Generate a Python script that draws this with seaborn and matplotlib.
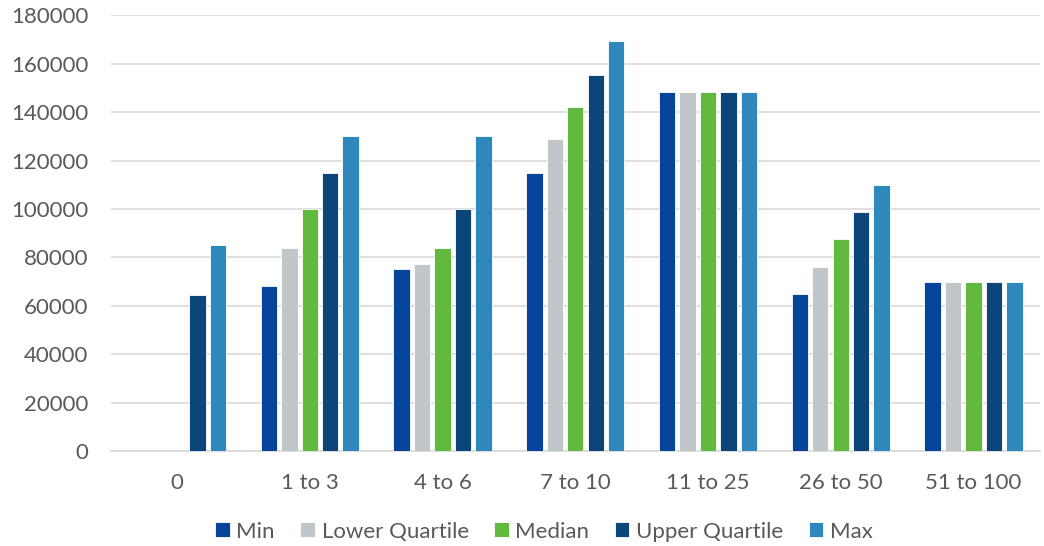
import pandas as pd
import matplotlib.pyplot as plt
import seaborn as sns

# Values
groups = ["0", "1 to 3", "4 to 6", "7 to 10", "11 to 25", "26 to 50", "51 to 100"]
series = ["Min", "Lower Quartile", "Median", "Upper Quartile", "Max"]
min_vals = [0, 68000, 75000, 115000, 148500, 65000, 70000]
lower_q = [0, 84000, 77200, 128700, 148500, 76100, 70000]
median = [0, 100000, 84000, 142000, 148500, 87500, 70000]
upper_q = [64500, 115000, 100000, 155500, 148500, 98700, 70000]
max_vals = [85000, 130000, 130000, 169500, 148500, 110000, 70000]
colors = ["#06449C", "#C0C6C9", "#61B93D", "#0C4579", "#2E88BC"]

df = pd.DataFrame({"group": groups, "Min": min_vals, "Lower Quartile": lower_q,
                   "Median": median, "Upper Quartile": upper_q, "Max": max_vals})
long_df = df.melt(id_vars="group", var_name="series", value_name="value")

sns.set_style("white")
plt.rcParams["font.family"] = ["Lato", "DejaVu Sans"]

fig, ax = plt.subplots(figsize=(10.44, 5.46), dpi=100)
fig.subplots_adjust(left=0.106, right=0.996, top=0.972, bottom=0.174)

sns.barplot(data=long_df, x="group", y="value", hue="series", order=groups,
            hue_order=series, palette=colors, saturation=1, width=0.77, gap=0.2,
            edgecolor="white", linewidth=0.6, ax=ax, zorder=3)

ax.set_ylim(0, 180000)
ax.set_xlim(-0.5, 6.5)
ax.set_yticks(range(0, 180001, 20000))
ax.yaxis.grid(True, color="#D9D9D9", linewidth=1.2, zorder=0)
ax.set_axisbelow(True)
ax.set_xlabel("")
ax.set_ylabel("")
for side in ["top", "right", "left"]:
    ax.spines[side].set_visible(False)
ax.spines["bottom"].set_color("#D9D9D9")
ax.spines["bottom"].set_linewidth(1.2)
ax.tick_params(axis="both", length=0, labelsize=16, labelcolor="#595959")
ax.tick_params(axis="x", pad=16)
ax.tick_params(axis="y", pad=16)

handles, labels = ax.get_legend_handles_labels()
ax.legend(handles, labels, loc="upper center", bbox_to_anchor=(0.521, 0.061),
          bbox_transform=fig.transFigure, ncol=5, frameon=False, fontsize=16,
          labelcolor="#595959", handlelength=0.65, handleheight=0.65,
          handletextpad=0.3, columnspacing=1.15, borderaxespad=0)

plt.savefig("out.png", dpi=100)
